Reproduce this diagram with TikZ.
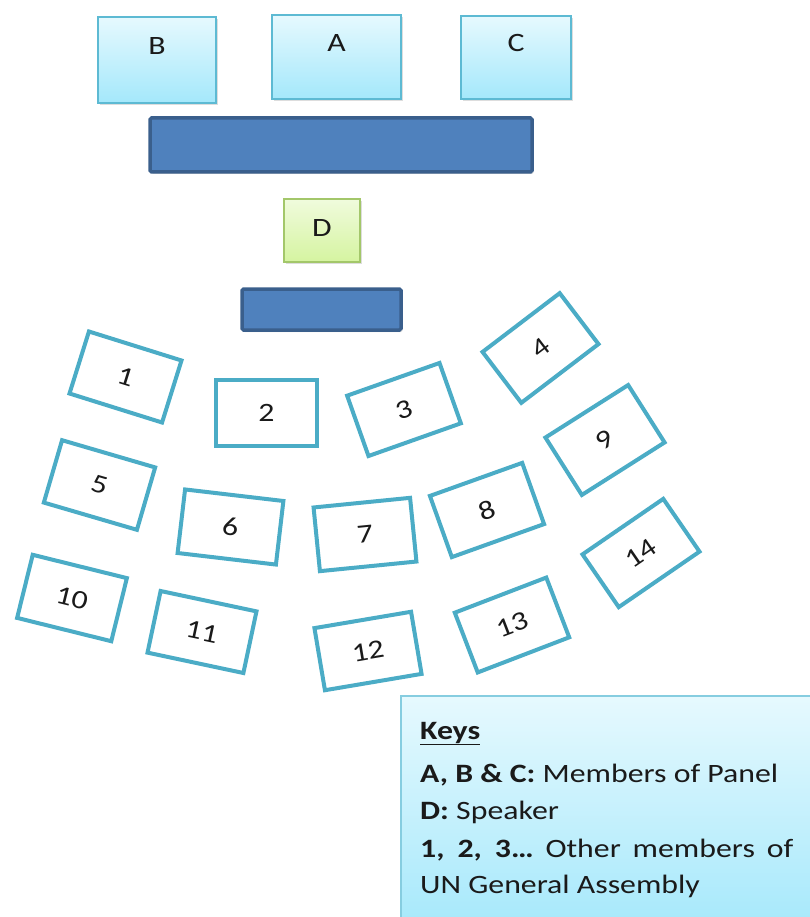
\documentclass[tikz,border=0pt]{standalone}
\usepackage{fontspec}
\setmainfont{Carlito}[FakeStretch=1.2]
\usetikzlibrary{shadows}

\definecolor{seatblue}{HTML}{4BACC6}
\definecolor{panelline}{HTML}{5DBAD3}
\definecolor{cyantop}{HTML}{E6F9FE}
\definecolor{cyanbot}{HTML}{A4E8FB}
\definecolor{barfill}{HTML}{4F81BD}
\definecolor{barline}{HTML}{3A5F8C}
\definecolor{greentop}{HTML}{F0FBDD}
\definecolor{greenbot}{HTML}{D5F4A0}
\definecolor{greenline}{HTML}{A3C76A}
\definecolor{keyline}{HTML}{86CDE0}
\definecolor{ink}{HTML}{1A1A1A}

\newcommand\txtsize{\fontsize{26.5}{31}\selectfont}

\begin{document}
\begin{tikzpicture}[x=1pt, y=-1pt,
  softshadow/.style={drop shadow={shadow xshift=1.5pt, shadow yshift=-2pt, opacity=0.22, fill=black!60}},
  panel/.style={draw=panelline, line width=2pt, top color=cyantop, bottom color=cyanbot,
                inner sep=0pt, softshadow},
  speaker/.style={draw=greenline, line width=2pt, top color=greentop, bottom color=greenbot,
                  inner sep=0pt, softshadow},
  tablebar/.style={draw=barline, fill=barfill, line width=3.5pt, rounded corners=1.5pt,
                   inner sep=0pt, softshadow},
  seat/.style={draw=seatblue, line width=4pt, fill=white, inner sep=0pt,
               text=ink, font=\txtsize},
  lbl/.style={inner sep=0pt, text=ink, font=\txtsize},
  keytext/.style={inner sep=0pt, anchor=base west, text=ink, font=\txtsize},
  keybox/.style={draw=keyline, line width=1.8pt, top color=cyantop, bottom color=cyanbot,
                 inner sep=0pt, anchor=north west, softshadow}]

\useasboundingbox (0,0) rectangle (810,917);

% panel members and their table
\node (B) [panel, minimum width=118pt, minimum height=86pt] at (157,60) {};
\node (A) [panel, minimum width=129pt, minimum height=84pt] at (336.5,57) {};
\node (C) [panel, minimum width=110pt, minimum height=83pt] at (516,57.5) {};
\node (Blbl) [lbl] at (157,46) {B};
\node (Albl) [lbl] at (336.5,43) {A};
\node (Clbl) [lbl] at (516,43) {C};
\node (paneltable) [tablebar, minimum width=382pt, minimum height=54pt] at (341,145) {};

% speaker and lectern
\node (D) [speaker, minimum width=76pt, minimum height=63pt] at (322,230.5) {};
\node (Dlbl) [lbl] at (322,228) {D};
\node (lectern) [tablebar, minimum width=159pt, minimum height=41pt] at (321.5,309.5) {};

% assembly seats
\node (s1)  [seat, minimum width=97pt,  minimum height=65pt, rotate=-17.4] at (125.5,377) {1};
\node (s2)  [seat, minimum width=101pt, minimum height=66pt]               at (266.5,413) {2};
\node (s3)  [seat, minimum width=98pt,  minimum height=64pt, rotate=19.5]  at (404,409.5) {3};
\node (s4)  [seat, minimum width=97pt,  minimum height=64pt, rotate=37.3]  at (540.5,348) {4};
\node (s5)  [seat, minimum width=97pt,  minimum height=65pt, rotate=-16.3] at (99.5,485)  {5};
\node (s6)  [seat, minimum width=99pt,  minimum height=64pt, rotate=-6.7]  at (230.5,527) {6};
\node (s7)  [seat, minimum width=97pt,  minimum height=64pt, rotate=5.7]   at (365,534.5) {7};
\node (s8)  [seat, minimum width=98pt,  minimum height=65pt, rotate=19.7]  at (487,510)   {8};
\node (s9)  [seat, minimum width=98pt,  minimum height=68pt, rotate=32.4]  at (605,440)   {9};
\node (s10) [seat, minimum width=97pt,  minimum height=65pt, rotate=-13.9] at (72,598)    {10};
\node (s11) [seat, minimum width=98pt,  minimum height=63pt, rotate=-12]   at (202,632)   {11};
\node (s12) [seat, minimum width=98pt,  minimum height=63pt, rotate=9.6]   at (368,651)   {12};
\node (s13) [seat, minimum width=98pt,  minimum height=64pt, rotate=21]    at (512,625)   {13};
\node (s14) [seat, minimum width=98pt,  minimum height=64pt, rotate=34.5]  at (641,553)   {14};

% legend
\node (key) [keybox, minimum width=430pt, minimum height=240pt] at (400,695) {};
\node (k0) [keytext] at (420,739) {\underline{\textbf{Keys}}};
\node (k1) [keytext] at (420,782) {\textbf{A, B \& C:} Members of Panel};
\node (k2) [keytext] at (420,819) {\textbf{D:} Speaker};
\node (k3) [keytext] at (420,857) {\makebox[373pt][s]{\textbf{1, 2, 3…} Other members of}};
\node (k4) [keytext] at (420,893) {UN General Assembly};

\end{tikzpicture}
\end{document}
